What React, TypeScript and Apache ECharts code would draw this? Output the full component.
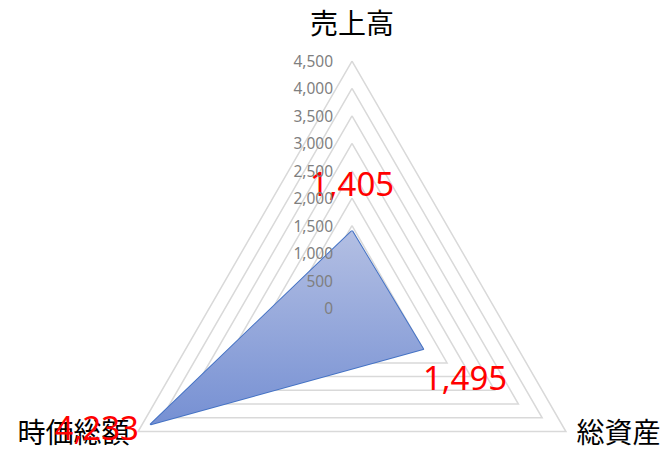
import { useEffect, useRef } from 'react';
import * as echarts from 'echarts';

// indicators in ECharts order (counter-clockwise from the top)
const indicators = ['売上高', '時価総額', '総資産'];
const values = [1405, 4233, 1495];
const maxValue = 4500;
const tickStep = 500;

const fmt = (v: number) => Number(v).toLocaleString('en-US');

export default function App() {
  const chartRef = useRef<HTMLDivElement>(null);

  useEffect(() => {
    document.body.style.margin = '0';
    const chart = echarts.init(chartRef.current, null, { renderer: 'svg' });
    const nameStyle = { fontSize: 28, color: '#000', fontFamily: 'Noto Sans CJK JP' };
    const valueStyle = { fontSize: 33, color: '#ff0000', fontFamily: 'Noto Sans' };
    const baseRadar = {
      center: [352, 308],
      radius: 247,
      shape: 'polygon',
      splitNumber: maxValue / tickStep,
      axisLine: { show: false },
      axisTick: { show: false },
      splitArea: { show: false },
    };
    const option = {
      animation: false,
      radar: [
        {
          // grid rings and indicator names, below the series
          ...baseRadar,
          z: 0,
          nameGap: 10,
          indicator: indicators.map((name) => ({ name, min: 0, max: maxValue })),
          axisName: {
            ...nameStyle,
            formatter: (name: string) => `{n${indicators.indexOf(name)}|${name}}`,
            rich: {
              n0: { ...nameStyle, padding: [0, 0, 15, 0] },
              n1: { ...nameStyle, padding: [0, 0, 11, 0] },
              n2: { ...nameStyle, padding: [0, 0, 11, 2] },
            },
          },
          axisLabel: { show: false },
          splitLine: { lineStyle: { color: '#d9d9d9', width: 1.5 } },
        },
        {
          // tick labels on the top axis, above the series
          ...baseRadar,
          z: 5,
          indicator: indicators.map((name, i) => ({
            name,
            min: 0,
            max: maxValue,
            ...(i === 0 ? { axisLabel: { show: true } } : {}),
          })),
          axisName: { show: false },
          splitLine: { show: false },
          axisLabel: {
            show: false,
            margin: 19,
            fontSize: 15.5,
            color: '#7f7f7f',
            fontFamily: 'Noto Sans',
            formatter: (v: number) => fmt(v),
          },
        },
      ],
      series: [
        {
          type: 'radar',
          radarIndex: 0,
          z: 2,
          symbol: 'circle',
          symbolSize: 0,
          lineStyle: { color: '#4472c4', width: 2 },
          itemStyle: { color: '#4472c4' },
          areaStyle: {
            opacity: 1,
            color: new echarts.graphic.LinearGradient(0, 0, 0, 1, [
              { offset: 0, color: '#b3bfe3' },
              { offset: 1, color: '#7690d3' },
            ]),
          },
          label: {
            show: true,
            position: 'inside',
            ...valueStyle,
            formatter: (p: any) => `{v${values.indexOf(p.value)}|${fmt(p.value)}}`,
            rich: {
              v0: { ...valueStyle, padding: [0, 0, 94, 0] },
              v1: { ...valueStyle, padding: [6, 108, 0, 0] },
              v2: { ...valueStyle, padding: [56, 0, 0, 84] },
            },
          },
          data: [{ value: values, name: 'data' }],
        },
      ],
    };
    chart.setOption(option);
    return () => {
      chart.dispose();
    };
  }, []);

  return <div ref={chartRef} style={{ width: '664px', height: '471px' }} />;
}
